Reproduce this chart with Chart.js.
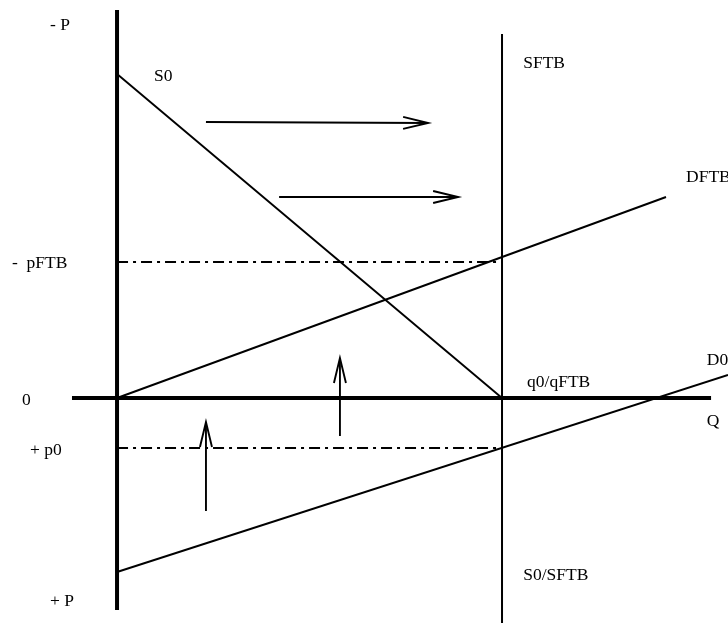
<!DOCTYPE html>
<html>
<head>
<meta charset="utf-8">
<script src="https://cdn.jsdelivr.net/npm/chart.js@4"></script>
<style>
  body { margin: 0; background: #fff; }
  #wrap { width: 728px; height: 623px; }
</style>
</head>
<body>
<div id="wrap"><canvas id="marketChart" width="728" height="623"></canvas></div>
<script>
  // quantity (Q) runs right, price (P) runs down: top of the diagram is "- P"
  const qExtent = [-3.04, 15.87];
  const pExtent = [-39.8, 22.5];

  const priceAxisP = [-38.8, 21.2];
  const quantityAxisQ = [-1.17, 15.43];

  const qFTB = 10;
  const sftbP = [-36.4, 22.5];

  const s0Q = [0, 10];
  const s0P = [-32.4, 0];
  const dftbQ = [0, 14.26];
  const dftbP = [0, -20.1];
  const d0Q = [0, 15.87];
  const d0P = [17.4, -2.3];

  const pFTB = -13.6;
  const p0 = 5;

  // shift arrows (right) and rise arrows (up)
  const shiftArrowQ = [[2.31, 8.08], [4.21, 8.86]];
  const shiftArrowP = [[-27.6, -27.5], [-20.1, -20.1]];
  const riseArrowQ = [2.31, 5.79];
  const riseArrowP = [[11.3, 2.4], [3.8, -4.0]];

  const labelTexts = ["- P", "S0", "SFTB", "DFTB", "-  pFTB", "0", "q0/qFTB", "D0", "Q", "+ p0", "S0/SFTB", "+ P"];
  const labelQ = [-1.74, 0.96, 10.55, 14.78, -2.73, -2.47, 10.65, 15.32, 15.32, -2.26, 10.55, -1.74];
  const labelP = [-36.8, -31.7, -33.0, -21.6, -13.0, 0.7, -1.1, -3.3, 2.8, 5.7, 18.2, 20.8];

  const pts = (qs, ps) => qs.map((q, i) => ({ x: q, y: ps[i] }));

  const line = (data, width, extra) => Object.assign({
    data: data,
    showLine: true,
    borderColor: "#000",
    borderWidth: width,
    pointRadius: 0,
    pointHoverRadius: 0,
    fill: false,
    tension: 0,
  }, extra || {});

  const datasets = [
    line(pts([0, 0], priceAxisP), 4),
    line(pts(quantityAxisQ, [0, 0]), 4),
    line(pts([qFTB, qFTB], sftbP), 2),
    line(pts(s0Q, s0P), 1.9),
    line(pts(dftbQ, dftbP), 1.9),
    line(pts(d0Q, d0P), 1.9),
    line(pts([0, qFTB], [pFTB, pFTB]), 2, { borderDash: [11, 5, 3, 5] }),
    line(pts([0, qFTB], [p0, p0]), 2, { borderDash: [11, 5, 3, 5] }),
  ];
  shiftArrowQ.forEach((qs, i) => datasets.push(line(pts(qs, shiftArrowP[i]), 1.9, { arrow: true })));
  riseArrowQ.forEach((q, i) => datasets.push(line(pts([q, q], riseArrowP[i]), 1.9, { arrow: true })));

  // open arrowheads + text labels
  const diagramExtras = {
    id: "diagramExtras",
    afterDatasetsDraw(chart) {
      const c = chart.ctx;
      const xs = chart.scales.x;
      const ys = chart.scales.y;
      c.save();
      c.strokeStyle = "#000";
      c.lineWidth = 1.9;
      chart.data.datasets.forEach((ds) => {
        if (!ds.arrow) return;
        const a = ds.data[0], b = ds.data[ds.data.length - 1];
        const x1 = xs.getPixelForValue(a.x), y1 = ys.getPixelForValue(a.y);
        const x2 = xs.getPixelForValue(b.x), y2 = ys.getPixelForValue(b.y);
        const ang = Math.atan2(y2 - y1, x2 - x1);
        const len = 25, half = 6;
        c.beginPath();
        c.moveTo(x2 - len * Math.cos(ang) - half * Math.sin(ang), y2 - len * Math.sin(ang) + half * Math.cos(ang));
        c.lineTo(x2, y2);
        c.lineTo(x2 - len * Math.cos(ang) + half * Math.sin(ang), y2 - len * Math.sin(ang) - half * Math.cos(ang));
        c.stroke();
      });
      c.fillStyle = "#000";
      c.font = "17.5px 'Liberation Serif', 'DejaVu Serif', serif";
      c.textBaseline = "alphabetic";
      c.textAlign = "left";
      labelTexts.forEach((t, i) => {
        c.fillText(t, xs.getPixelForValue(labelQ[i]), ys.getPixelForValue(labelP[i]));
      });
      c.restore();
    },
  };

  const ctx = document.getElementById("marketChart").getContext("2d");
  const marketChart = new Chart(ctx, {
    type: "scatter",
    data: { datasets: datasets },
    options: {
      responsive: false,
      animation: false,
      layout: { padding: 0 },
      scales: {
        x: { type: "linear", min: qExtent[0], max: qExtent[1], display: false },
        y: { type: "linear", min: pExtent[0], max: pExtent[1], reverse: true, display: false },
      },
      plugins: {
        legend: { display: false },
        tooltip: { enabled: false },
      },
    },
    plugins: [diagramExtras],
  });
</script>
</body>
</html>
